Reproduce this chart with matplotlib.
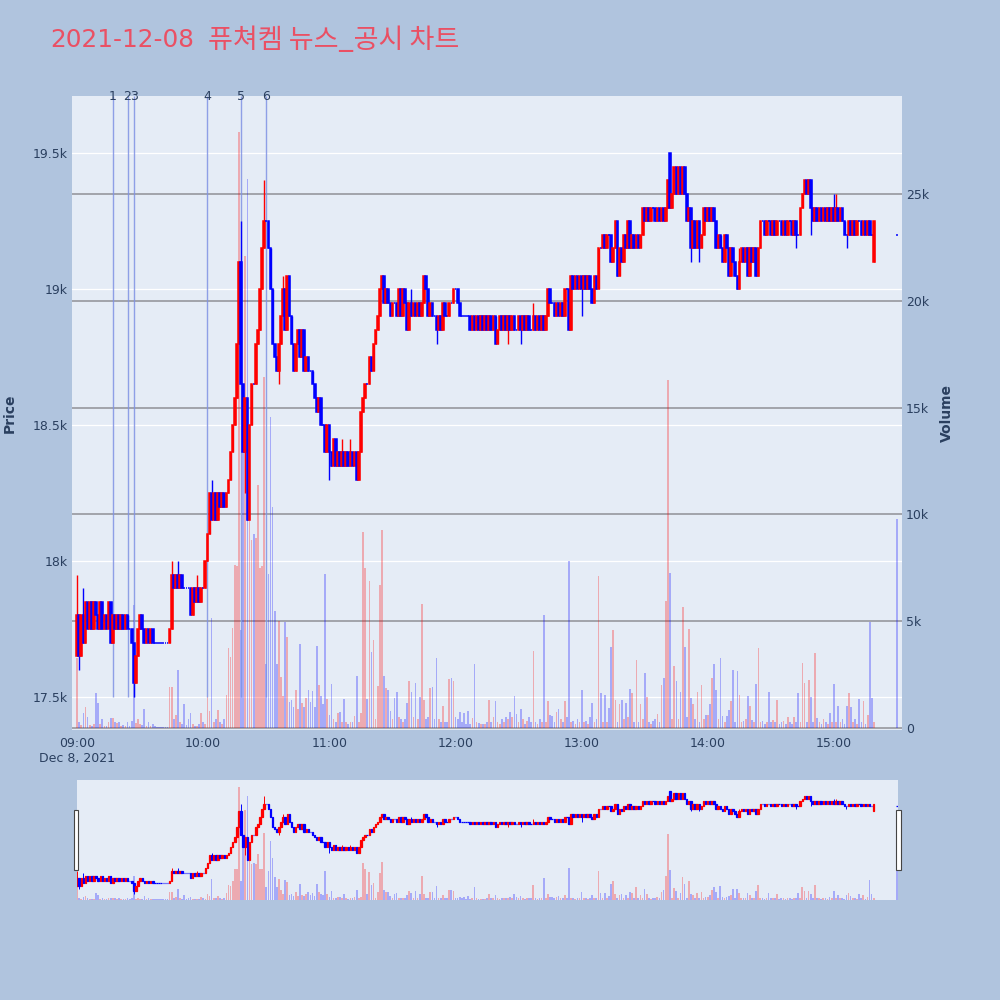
import numpy as np
import pandas as pd
import matplotlib
matplotlib.use("Agg")
import matplotlib.pyplot as plt
from matplotlib.patches import Rectangle

plt.rcParams["font.family"] = ["DejaVu Sans", "Noto Sans CJK KR"]

BG = "#b0c4de"
PLOT_BG = "#e5ecf6"
TEXT = "#2a3f5f"
UP = "#ff0000"
DOWN = "#0000ff"

TITLE_DATE = "2021-12-08"
TITLE_NAME = "퓨쳐켐 뉴스_공시 차트"

# minute closes, 09:00 .. 15:19, plus the 15:30 closing auction
close_09 = [17800, 17650, 17800, 17700, 17850, 17750, 17850, 17750, 17850, 17800,
            17750, 17850, 17750, 17800, 17750, 17850, 17700, 17800, 17750, 17800,
            17750, 17800, 17750, 17800, 17750, 17750, 17700, 17550, 17650, 17750,
            17800, 17750, 17700, 17750, 17700, 17750, 17700, 17700, 17700, 17700,
            17700, 17700, 17700, 17700, 17750, 17950, 17900, 17950, 17900, 17950,
            17900, 17900, 17900, 17900, 17800, 17900, 17850, 17900, 17850, 17900]
close_10 = [17900, 18000, 18100, 18250, 18150, 18250, 18150, 18250, 18200, 18250,
            18200, 18250, 18300, 18400, 18500, 18600, 18800, 19100, 18650, 18400,
            18600, 18150, 18500, 18650, 18650, 18800, 18850, 19000, 19150, 19250,
            19250, 19150, 19000, 18800, 18750, 18700, 18800, 18900, 19000, 18850,
            19050, 18900, 18800, 18700, 18800, 18850, 18750, 18850, 18700, 18750,
            18700, 18700, 18650, 18600, 18550, 18600, 18500, 18500, 18400, 18500]
close_11 = [18400, 18350, 18450, 18350, 18400, 18350, 18400, 18350, 18400, 18350,
            18400, 18350, 18400, 18300, 18400, 18550, 18600, 18650, 18650, 18750,
            18700, 18800, 18850, 18900, 19000, 19050, 18950, 19000, 18950, 18900,
            18950, 18950, 18900, 19000, 18900, 19000, 18950, 18850, 18950, 18900,
            18950, 18900, 18950, 18900, 18950, 19050, 19000, 18900, 18950, 18900,
            18900, 18850, 18900, 18850, 18950, 18900, 18900, 18950, 18950, 19000]
close_12 = [19000, 18950, 18900, 18900, 18900, 18900, 18900, 18850, 18900, 18850,
            18900, 18850, 18900, 18850, 18900, 18850, 18900, 18850, 18900, 18800,
            18850, 18900, 18850, 18900, 18850, 18900, 18850, 18900, 18850, 18850,
            18900, 18850, 18900, 18850, 18900, 18850, 18850, 18900, 18850, 18900,
            18850, 18900, 18850, 18900, 19000, 18950, 18950, 18900, 18950, 18900,
            18950, 18900, 19000, 19000, 18850, 19050, 19000, 19050, 19000, 19050]
close_13 = [19000, 19050, 19000, 19050, 19000, 18950, 19050, 19000, 19150, 19150,
            19200, 19150, 19200, 19200, 19100, 19150, 19250, 19050, 19150, 19100,
            19200, 19150, 19250, 19150, 19200, 19150, 19200, 19150, 19200, 19300,
            19250, 19300, 19250, 19300, 19300, 19250, 19300, 19250, 19300, 19250,
            19300, 19400, 19300, 19350, 19450, 19350, 19450, 19350, 19450, 19350,
            19250, 19300, 19150, 19250, 19150, 19250, 19150, 19200, 19300, 19250]
close_14 = [19300, 19250, 19300, 19250, 19150, 19200, 19150, 19100, 19200, 19150,
            19050, 19150, 19100, 19050, 19000, 19100, 19150, 19100, 19150, 19050,
            19150, 19100, 19150, 19050, 19150, 19250, 19250, 19200, 19250, 19250,
            19200, 19250, 19200, 19250, 19250, 19200, 19250, 19200, 19250, 19250,
            19200, 19250, 19200, 19200, 19300, 19350, 19400, 19350, 19400, 19300,
            19250, 19300, 19250, 19300, 19250, 19300, 19250, 19300, 19250, 19300]
close_15 = [19250, 19300, 19250, 19300, 19250, 19200, 19200, 19250, 19200, 19250,
            19200, 19250, 19250, 19200, 19250, 19200, 19250, 19200, 19200, 19250]
close_auction = 19200

# opens that don't follow the previous close, extra wicks (minute index -> price)
open_fix = {0: 17650, 282: 19500, 379: 19100}
wick_high = {0: 17950, 3: 17900, 45: 18000, 48: 18000, 57: 17950, 64: 18300,
             78: 19250, 89: 19400, 98: 19050, 126: 18450, 130: 18450, 159: 19000,
             217: 18950, 315: 19150, 360: 19350, 361: 19350}
wick_low = {1: 17600, 27: 17500, 80: 18250, 96: 18650, 120: 18300, 133: 18300,
            171: 18800, 205: 18800, 211: 18800, 240: 18900, 292: 19100,
            296: 19100, 342: 19150, 349: 19200, 366: 19150}

vol_09 = [3300, 300, 150, 700, 1000, 500, 150, 100, 200, 1640,
          1170, 200, 400, 100, 100, 300, 470, 470, 300, 250,
          300, 100, 150, 100, 300, 100, 350, 5760, 250, 400,
          200, 150, 900, 100, 300, 100, 200, 100, 50, 50,
          50, 50, 50, 50, 1930, 1900, 400, 600, 2700, 300,
          200, 1100, 150, 400, 700, 200, 100, 100, 200, 700]
vol_10 = [300, 200, 1450, 800, 5150, 300, 400, 860, 300, 200,
          400, 1550, 3730, 3340, 4660, 7630, 7600, 27900, 4600, 14650,
          22100, 25700, 9700, 8800, 9100, 8900, 11380, 7500, 7600, 16450,
          3000, 7200, 14570, 10360, 5500, 3000, 5000, 2400, 1500, 4940,
          4280, 1200, 1300, 1000, 1780, 900, 3930, 1150, 1000, 1400,
          1800, 1200, 1750, 1000, 3850, 2000, 1500, 1100, 7190, 1360]
vol_11 = [600, 2080, 400, 300, 700, 750, 300, 1360, 300, 200,
          300, 300, 550, 2450, 300, 700, 9170, 7510, 1360, 6900,
          3570, 4100, 400, 1950, 6700, 9250, 2450, 1860, 1780, 800,
          400, 1400, 1670, 500, 400, 300, 400, 1150, 2210, 1680,
          500, 2100, 400, 1450, 5800, 1330, 400, 500, 1880, 1900,
          400, 3270, 400, 300, 1050, 300, 300, 2300, 2350, 2200]
vol_12 = [500, 400, 750, 300, 700, 200, 800, 200, 450, 3000,
          300, 250, 200, 200, 200, 300, 1300, 300, 500, 1250,
          300, 200, 400, 300, 500, 400, 730, 500, 1480, 640,
          300, 870, 400, 200, 330, 500, 300, 3600, 300, 200,
          420, 300, 5280, 300, 1280, 600, 550, 300, 730, 870,
          400, 300, 1250, 500, 7800, 300, 330, 200, 400, 300]
vol_13 = [1780, 300, 330, 200, 500, 1170, 300, 400, 7120, 1640,
          300, 1540, 300, 920, 3800, 4610, 1330, 300, 1100, 1330,
          400, 1170, 500, 1830, 1640, 300, 3200, 300, 1100, 400,
          2560, 1470, 300, 200, 330, 400, 640, 300, 2000, 2340,
          5960, 16290, 7270, 400, 2900, 2200, 400, 1700, 5680, 3800,
          500, 4620, 1400, 1100, 400, 1700, 300, 2000, 400, 600]
vol_14 = [600, 1100, 2350, 3000, 1800, 400, 3300, 560, 300, 550,
          830, 1260, 2700, 300, 2680, 1530, 300, 350, 400, 1520,
          1040, 360, 300, 2050, 3730, 300, 350, 200, 300, 1670,
          300, 380, 300, 1330, 200, 300, 350, 200, 500, 300,
          200, 500, 300, 1650, 300, 3030, 2100, 300, 2250, 1460,
          300, 3500, 450, 300, 200, 400, 300, 200, 700, 300]
vol_15 = [2040, 300, 1050, 300, 400, 200, 1040, 1640, 1000, 300,
          400, 200, 1350, 300, 1250, 200, 600, 4960, 1400, 300]
vol_auction = 9780

news_times = ["09:17", "09:24", "09:27", "10:02", "10:18", "10:30"]
news_labels = ["1", "2", "3", "4", "5", "6"]

price_ticks = [17500, 18000, 18500, 19000, 19500]
price_tick_labels = ["17.5k", "18k", "18.5k", "19k", "19.5k"]
vol_ticks = [0, 5000, 10000, 15000, 20000, 25000]
vol_tick_labels = ["0", "5k", "10k", "15k", "20k", "25k"]
time_ticks = ["09:00", "10:00", "11:00", "12:00", "13:00", "14:00", "15:00"]

# ---- assemble candles
closes = close_09 + close_10 + close_11 + close_12 + close_13 + close_14 + close_15
volumes = vol_09 + vol_10 + vol_11 + vol_12 + vol_13 + vol_14 + vol_15
times = list(pd.date_range("2021-12-08 09:00", periods=len(closes), freq="min"))
times.append(pd.Timestamp("2021-12-08 15:30"))
closes.append(close_auction)
volumes.append(vol_auction)

t0 = pd.Timestamp("2021-12-08 09:00")
x = np.array([(t - t0).total_seconds() / 60 for t in times])
c = np.array(closes, dtype=float)
o = np.concatenate([[c[0]], c[:-1]])
o[-1] = c[-1]
for k, v in open_fix.items():
    o[k] = v
hi = np.maximum(o, c)
lo = np.minimum(o, c)
for k, v in wick_high.items():
    hi[k] = max(hi[k], v)
for k, v in wick_low.items():
    lo[k] = min(lo[k], v)
vol = np.array(volumes, dtype=float)
up = c > o
col = np.where(up, UP, DOWN)


def minute_of(hhmm):
    return (pd.Timestamp("2021-12-08 " + hhmm) - t0).total_seconds() / 60


PRICE_LIM = (17379, 19710)
VOL_LIM = (-94, 29590)
X_LIM = (-2.4, 392.3)


def draw_candles(axc, axv, body_w, lw, wick_lw):
    axv.bar(x, vol, width=0.8, color=np.where(up, UP, DOWN), alpha=0.28,
            linewidth=0, zorder=2)
    axc.vlines(x, lo, hi, colors=col, linewidth=wick_lw, zorder=3)
    axc.bar(x, c - o, bottom=o, width=body_w, color=col, edgecolor=col,
            linewidth=lw, zorder=4)


fig = plt.figure(figsize=(10, 10), dpi=100, facecolor=BG)

# ---- main chart
rect = [0.072, 0.27, 0.83, 0.634]
ax = fig.add_axes(rect, facecolor=PLOT_BG)
axv = ax.twinx()
axc = ax.twinx()

ax.set_xlim(*X_LIM)
ax.set_ylim(*PRICE_LIM)
axc.set_ylim(*PRICE_LIM)
axv.set_ylim(*VOL_LIM)

ax.set_yticks(price_ticks)
ax.set_yticklabels(price_tick_labels)
ax.grid(axis="y", color="white", linewidth=0.9)
ax.set_axisbelow(True)
axv.set_yticks(vol_ticks)
axv.set_yticklabels(vol_tick_labels)
axv.grid(axis="y", color="#a2a4aa", linewidth=1.4)
axv.set_axisbelow(True)
axc.set_yticks([])

tick_x = [minute_of(t) for t in time_ticks]
tick_lab = [t for t in time_ticks]
tick_lab[0] = "09:00\nDec 8, 2021"
ax.set_xticks(tick_x)
ax.set_xticklabels(tick_lab, linespacing=1.2)
ax.tick_params(axis="x", length=0, pad=5, labelsize=9, labelcolor=TEXT)
ax.tick_params(axis="y", length=0, pad=3, labelsize=9, labelcolor=TEXT)
axv.tick_params(axis="y", length=0, pad=3, labelsize=9, labelcolor=TEXT)
for a in (ax, axv, axc):
    for s in a.spines.values():
        s.set_visible(False)
ax.grid(axis="x", visible=False)

draw_candles(axc, axv, body_w=0.8, lw=1.1, wick_lw=1.0)

# news markers
for t, lab in zip(news_times, news_labels):
    xm = minute_of(t)
    axc.vlines(xm, 17500, PRICE_LIM[1], colors="#7f92e4", linewidth=1.0,
               alpha=0.85, zorder=1)
    axc.text(xm, 1.0, lab, transform=axc.get_xaxis_transform(), ha="center",
             va="center", fontsize=9, color=TEXT, zorder=6, clip_on=False)

fig.text(0.010, 0.587, "Price", rotation=90, ha="center", va="center",
         fontsize=10, fontweight="bold", color=TEXT)
fig.text(0.947, 0.587, "Volume", rotation=90, ha="center", va="center",
         fontsize=10, fontweight="bold", color=TEXT)
fig.text(0.05, 0.96, TITLE_DATE, ha="left", va="center", fontsize=17.8,
         color="#ea5064", family=["DejaVu Sans"])
fig.text(0.208, 0.96, TITLE_NAME, ha="left", va="center", fontsize=19.5,
         color="#ea5064", family=["Noto Sans CJK KR", "DejaVu Sans"])

# ---- range slider
srect = [0.0765, 0.10, 0.821, 0.12]
axs = fig.add_axes(srect, facecolor=PLOT_BG)
axsv = axs.twinx()
axsc = axs.twinx()
for a in (axs, axsv, axsc):
    a.set_xlim(-0.3, 390.3)
    a.set_xticks([])
    a.set_yticks([])
    for s in a.spines.values():
        s.set_visible(False)
axs.set_ylim(*PRICE_LIM)
axsc.set_ylim(*PRICE_LIM)
axsv.set_ylim(*VOL_LIM)
draw_candles(axsc, axsv, body_w=0.7, lw=0.9, wick_lw=0.7)

for hx in (0.0735, 0.896):
    fig.add_artist(Rectangle((hx, 0.13), 0.0045, 0.06, transform=fig.transFigure,
                             facecolor="white", edgecolor="#444444",
                             linewidth=0.8))

fig.savefig("out.png", dpi=100, facecolor=BG)
